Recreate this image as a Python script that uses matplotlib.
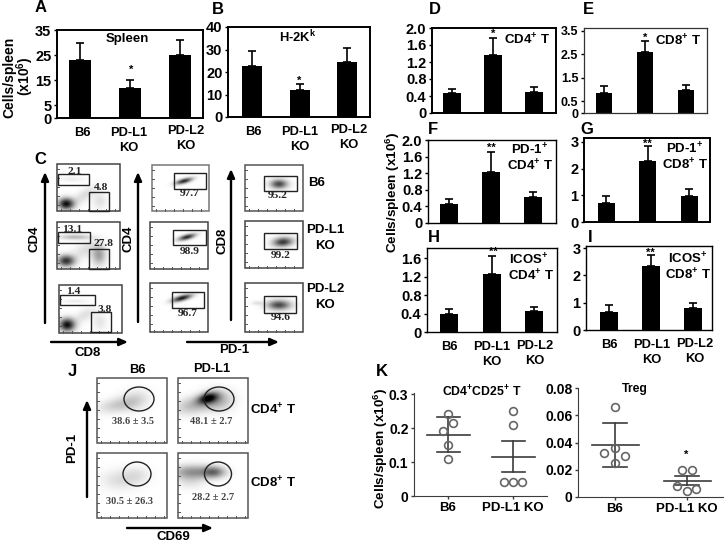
import numpy as np
import matplotlib
matplotlib.use("Agg")
import matplotlib.pyplot as plt
from matplotlib.patches import Rectangle, Ellipse
from matplotlib.transforms import ScaledTranslation

plt.rcParams['font.family'] = ['Liberation Sans', 'DejaVu Sans']
plt.rcParams['font.weight'] = 'bold'
plt.rcParams['mathtext.fontset'] = 'custom'
plt.rcParams['mathtext.rm'] = 'Liberation Sans:bold'
plt.rcParams['mathtext.it'] = 'Liberation Sans:bold'
plt.rcParams['mathtext.bf'] = 'Liberation Sans:bold'
plt.rcParams['mathtext.default'] = 'rm'

# ------------------ data ------------------
categories = ['B6', 'PD-L1\nKO', 'PD-L2\nKO']
a_vals = [23, 12, 25];        a_tops = [30, 15, 31]
b_vals = [22.5, 12, 24.5];    b_tops = [29.5, 14.5, 30.5]
d_vals = [0.48, 1.37, 0.50];  d_tops = [0.56, 1.76, 0.62]
e_vals = [0.86, 2.60, 1.00];  e_tops = [1.16, 3.05, 1.20]
f_vals = [0.46, 1.23, 0.63];  f_tops = [0.58, 1.71, 0.75]
g_vals = [0.70, 2.28, 0.97];  g_tops = [0.97, 2.85, 1.23]
h_vals = [0.40, 1.26, 0.45];  h_tops = [0.49, 1.65, 0.55]
i_vals = [0.66, 2.35, 0.80];  i_tops = [0.90, 2.75, 1.00]

k_cats = ['B6', 'PD-L1 KO']
k1_b6 = [0.24, 0.215, 0.19, 0.15, 0.11]
k1_ko = [0.25, 0.21, 0.04, 0.04, 0.04]
k1_means = [0.18, 0.116]; k1_hi = [0.233, 0.163]; k1_lo = [0.13, 0.07]
k2_b6 = [0.066, 0.036, 0.032, 0.030, 0.025]
k2_ko = [0.020, 0.020, 0.0083, 0.006, 0.0044]
k2_means = [0.038, 0.012]; k2_hi = [0.054, 0.0154]; k2_lo = [0.0218, 0.0086]

# ------------------ layout helpers (pixels) ------------------
W, H = 726, 543
fig = plt.figure(figsize=(W/100, H/100), dpi=100, facecolor='white')


def px_axes(l, t, r, b):
    return fig.add_axes([l/W, 1-b/H, (r-l)/W, (b-t)/H])


def bar_panel(box, centers, width, vals, tops, ticks, ticklabels, scale,
              lw=1.4, labels=True, offsets=None, pad=6.5, edge='k', tick_size=10.5):
    l, t, r, b = box
    ax = px_axes(l, t, r, b)
    s = (centers[2]-centers[0])/2
    x = np.arange(3)
    ax.bar(x, vals, width=width/s, color='k')
    ax.errorbar(x, vals, yerr=[np.zeros(3), np.array(tops)-np.array(vals)],
                fmt='none', ecolor='k', elinewidth=1.2, capsize=3, capthick=1.2)
    ax.set_xlim((l-centers[0])/s, (r-centers[0])/s)
    ax.set_ylim(0, (b-t)/scale)
    ax.set_yticks(ticks)
    ax.set_yticklabels(ticklabels, fontsize=tick_size, fontweight='bold')
    ax.tick_params(axis='y', length=2, width=1, pad=2)
    if labels:
        ax.set_xticks(x)
        ax.set_xticklabels(categories, fontsize=9.3, fontweight='bold', linespacing=1.3)
        ax.tick_params(axis='x', length=0, pad=pad)
        if offsets:
            for lab, (dx, dy) in zip(ax.get_xticklabels(), offsets):
                lab.set_transform(lab.get_transform() +
                                  ScaledTranslation(dx/100, -dy/100, fig.dpi_scale_trans))
    else:
        ax.set_xticks([])
    for sp in ax.spines.values():
        sp.set_linewidth(lw)
        sp.set_color(edge)
    return ax


bar_panel((57, 30, 203, 118), (80, 131, 180), 22, a_vals, a_tops,
          [0, 5, 15, 25, 35], ['0', '5', '15', '25', '35'], 2.51,
          offsets=[(2, 0), (-1, 0), (6, -2)])
bar_panel((228, 27, 370, 117), (252, 299, 347), 20, b_vals, b_tops,
          [0, 10, 20, 30, 40], ['0', '10', '20', '30', '40'], 2.27,
          offsets=[(1, 0), (0, 0), (2, -2)])
bar_panel((432, 28, 556, 113), (452, 493, 534), 18, d_vals, d_tops,
          [0, .4, .8, 1.2, 1.6, 2.0], ['0', '0.4', '0.8', '1.2', '1.6', '2.0'], 42.5, labels=False)
bar_panel((584, 28, 707, 113), (604, 645, 686), 16, e_vals, e_tops,
          [0, .5, 1.5, 2.5, 3.5], ['0', '0.5', '1.5', '2.5', '3.5'], 23.5, labels=False, lw=0.9, edge='#333333',
          tick_size=9)
bar_panel((428, 140, 556, 223), (449, 491, 533), 18, f_vals, f_tops,
          [0, .4, .8, 1.2, 1.6, 2.0], ['0', '0.4', '0.8', '1.2', '1.6', '2.0'], 41.5, labels=False, lw=1.0)
bar_panel((584, 138, 710, 222), (606, 647, 689), 17, g_vals, g_tops,
          [0, 1, 2, 3], ['0', '1', '2', '3'], 26.7, labels=False)
bar_panel((427, 248, 557, 332), (449, 492, 534), 18, h_vals, h_tops,
          [0, .4, .8, 1.2, 1.6], ['0', '0.4', '0.8', '1.2', '1.6'], 46, lw=1.0,
          offsets=[(0, 0), (0, 0), (1, -1)])
bar_panel((586, 246, 712, 330), (609, 651, 693), 18, i_vals, i_tops,
          [0, 1, 2, 3], ['0', '1', '2', '3'], 27.3, lw=1.0,
          offsets=[(0, 0), (1, 0), (2, -1)])


def scatter_panel(box, centers, yscale, b6, ko, b6_dx, ko_dx, means, hi, lo, ticks, ticklabels,
                  mean_w, cap_w):
    l, t, r, b = box
    ax = px_axes(l, t, r, b)
    s = centers[1]-centers[0]
    ax.set_xlim((l-centers[0])/s, (r-centers[0])/s)
    ax.set_ylim(0, (b-t)/yscale)
    col = '#3c3c3c'
    for i in range(2):
        ax.plot([i-mean_w/2/s, i+mean_w/2/s], [means[i]]*2, color=col, lw=1.2, zorder=2)
        ax.plot([i, i], [lo[i], hi[i]], color=col, lw=1.2, zorder=2)
        for v in (lo[i], hi[i]):
            ax.plot([i-cap_w/2/s, i+cap_w/2/s], [v, v], color=col, lw=1.2, zorder=2)
    ax.plot(np.array(b6_dx), b6, 'o', mfc='none', mec='#666666', mew=1.2, ms=5.6, zorder=3, clip_on=False)
    ax.plot(1+np.array(ko_dx), ko, 'o', mfc='none', mec='#666666', mew=1.2, ms=5.6, zorder=3, clip_on=False)
    ax.set_xticks([0, 1])
    ax.set_xticklabels(k_cats, fontsize=9.5, fontweight='bold')
    ax.set_yticks(ticks)
    ax.set_yticklabels(ticklabels, fontsize=10, fontweight='bold')
    ax.tick_params(axis='both', length=2.5, width=1, pad=1.5, color=col)
    ax.spines['top'].set_visible(False)
    ax.spines['right'].set_visible(False)
    ax.spines['left'].set_color(col)
    ax.spines['bottom'].set_color(col)
    return ax


scatter_panel((414, 393, 547, 496), (448, 513), 340, k1_b6, k1_ko,
              [0, .072, -.077, 0, 0], [0, 0, -.144, 0, .144],
              k1_means, k1_hi, k1_lo, [0, .1, .2, .3], ['0', '0.1', '0.2', '0.3'], 43, 23)
scatter_panel((578, 388, 723, 497), (615, 687), 1362, k2_b6, k2_ko,
              [0, 0, -.148, .139, 0], [-.074, .065, -.139, .13, 0],
              k2_means, k2_hi, k2_lo, [0, .02, .04, .06, .08], ['0', '0.02', '0.04', '0.06', '0.08'], 47, 24)

# ------------------ overlay in pixel space ------------------
ov = fig.add_axes([0, 0, 1, 1], zorder=10)
ov.patch.set_alpha(0)
ov.axis('off')


def T(x, y, s, size=9, rot=0, family=None, color='k', ha='center'):
    kw = {}
    if family:
        kw['family'] = family
    ov.text(x, y, s, fontsize=size, rotation=rot, ha=ha, va='center', color=color,
            fontweight='bold', linespacing=1.2, **kw)


def arrow(x0, y0, x1, y1):
    ov.annotate('', xy=(x1, y1), xytext=(x0, y0),
                arrowprops=dict(arrowstyle='-|>,head_width=0.22,head_length=0.5', lw=1.7,
                                color='k', shrinkA=0, shrinkB=0))


def flow(box, blobs, gates=(), ell=None, edge='#444444'):
    l, t, r, b = box
    xs, ys = np.meshgrid(np.linspace(l, r, (r-l)*2), np.linspace(t, b, (b-t)*2))
    img = np.zeros_like(xs)
    for cx, cy, sx, sy, rot, amp in blobs:
        th = np.deg2rad(rot)
        u = (xs-cx)*np.cos(th)+(ys-cy)*np.sin(th)
        v = -(xs-cx)*np.sin(th)+(ys-cy)*np.cos(th)
        img += amp*np.exp(-0.5*((u/sx)**2+(v/sy)**2))
    ov.imshow(img, extent=(l, r, b, t), cmap='gray_r', vmin=0, vmax=1,
              aspect='auto', interpolation='bilinear', zorder=1)
    ov.add_patch(Rectangle((l, t), r-l, b-t, fill=False, ec=edge, lw=1.1, zorder=2))
    # instrument tick marks along the bottom and left edges
    for tx in np.arange(l+4, r-2, 9):
        ov.plot([tx, tx], [b-2, b], color='#555555', lw=0.7, zorder=2)
    for ty in np.arange(t+5, b-2, 9):
        ov.plot([l, l+2], [ty, ty], color='#555555', lw=0.7, zorder=2)
    for g in gates:
        ov.add_patch(Rectangle((g[0], g[1]), g[2]-g[0], g[3]-g[1], fill=False, ec='#222222', lw=1.0, zorder=3))
    if ell:
        ov.add_patch(Ellipse((ell[0], ell[1]), 2*ell[2], 2*ell[3], fill=False, ec='#222222', lw=1.0, zorder=3))


S = 'Liberation Serif'
# panel C, CD4 vs CD8
flow((57, 164, 120, 211), [(66, 204, 5.5, 4, 0, .95), (85, 195, 10, 4, -35, .14), (100, 201, 5, 6, 0, .12), (72, 179, 9, 2, 0, .07)],
     [(58, 174, 89, 185), (89, 192, 109, 211)])
flow((57, 222, 120, 269), [(66, 261, 6, 4, 0, .8), (85, 250, 9, 5, -30, .13), (99, 255, 5, 7, 0, .38), (75, 237, 11, 1.8, 0, .28)],
     [(58, 232, 90, 243), (89, 249, 109, 269)])
flow((59, 285, 122, 333), [(67, 325, 5.5, 4.5, 0, .95), (85, 315, 8, 4, -30, .12), (100, 322, 5, 6, 0, .1), (75, 301, 9, 1.5, 0, .07)],
     [(60, 295, 95, 305), (91, 312, 111, 332)])
# panel C, gated
flow((152, 165, 209, 211), [(184, 181, 6, 1.7, -15, .85)], [(174, 173, 206, 189)], edge='#777777')
flow((150, 222, 208, 269), [(187, 237, 6, 1.8, -15, .85)], [(173, 230, 206, 245)], edge='#444444')
flow((150, 283, 208, 332), [(182, 298, 7, 1.9, -15, .92)], [(172, 292, 204, 308)], edge='#444444')
flow((245, 165, 303, 211), [(279, 184, 6, 3.2, 0, .72)], [(264, 176, 297, 191)], edge='#555555')
flow((245, 221, 303, 268), [(283, 242, 7, 3.2, -5, .78)], [(264, 233, 297, 249)], edge='#444444')
flow((245, 283, 303, 332), [(279, 305, 8, 3.4, 0, .72), (257, 303, 4, 1.4, 0, .12)], [(264, 296, 296, 313)], edge='#444444')

for x, y, s in [(75, 171, '2.1'), (101, 188, '4.8'), (72, 229, '13.1'), (103, 244, '27.8'),
                (73, 292, '1.4'), (105, 309, '3.8'), (190, 194, '97.7'), (190, 252, '98.9'),
                (188, 314, '96.7'), (278, 196, '95.2'), (281, 255, '99.2'), (281, 317, '94.6')]:
    T(x, y, s, size=8.2, family=S, color='#222222')

T(317, 183, 'B6', 9.5)
T(325, 230, 'PD-L1', 9.5); T(325, 246, 'KO', 9.5)
T(325, 289, 'PD-L2', 9.5); T(325, 305, 'KO', 9.5)
arrow(45, 323, 45, 172); arrow(138, 322, 138, 172); arrow(231, 320, 231, 169)
arrow(51, 342, 128, 342); arrow(187, 342, 279, 342)
T(34, 239, 'CD4', 9.5, 90); T(129, 239, 'CD4', 9.5, 90); T(222, 241, 'CD8', 9.5, 90)
T(88, 353, 'CD8', 9.5); T(234, 350, 'PD-1', 9.5)

# panel J
flow((97, 378, 167, 443), [(118, 405, 14, 5, -10, .2), (135, 400, 10, 7, -15, .14)], ell=(139, 399, 15, 12), edge='#555555')
flow((178, 378, 248, 443), [(208, 398, 7, 3.5, -15, .85), (195, 405, 14, 6, -10, .28), (218, 400, 10, 7, 0, .3)], ell=(219, 399, 15, 12), edge='#555555')
flow((97, 453, 167, 518), [(120, 480, 13, 7, 0, .13), (137, 475, 9, 6, 0, .1)], ell=(137, 474, 14, 12), edge='#555555')
flow((178, 453, 248, 518), [(192, 472, 14, 5, 0, .42), (214, 472, 8, 4, 0, .5), (190, 482, 10, 5, 0, .1)], ell=(218, 474, 13.5, 12), edge='#555555')
for x, y, s in [(133, 421, '38.6 ± 3.5'), (211, 421, '48.1 ± 2.7'), (129, 501, '30.5 ± 26.3'), (213, 498, '28.2 ± 2.7')]:
    T(x, y, s, size=7.5, family=S, color='#444444')
T(137, 370, 'B6', 9.3); T(212, 369, 'PD-L1', 9.3)
T(273, 410, 'CD4$^{+}$ T', 9.5); T(273, 483, 'CD8$^{+}$ T', 9.5)
T(72, 448, 'PD-1', 9.5, 90)
arrow(87, 497, 87, 400); arrow(127, 528, 213, 528)
T(173, 537, 'CD69', 9.5)

# titles inside panels
T(127, 39, 'Spleen', 9.5); T(298, 37, 'H-2K$^{k}$', 9.3)
T(527, 40, 'CD4$^{+}$ T', 9.5); T(678, 41, 'CD8$^{+}$ T', 9.5)
T(530, 150, 'PD-1$^{+}$', 9.5); T(530, 166, 'CD4$^{+}$ T', 9.5)
T(685, 149, 'PD-1$^{+}$', 9.5); T(685, 165, 'CD8$^{+}$ T', 9.5)
T(529, 260, 'ICOS$^{+}$', 9.5); T(531, 276, 'CD4$^{+}$ T', 9.5)
T(688, 259, 'ICOS$^{+}$', 9.5); T(688, 275, 'CD8$^{+}$ T', 9.5)
T(482, 392, 'CD4$^{+}$CD25$^{+}$ T', 8.8); T(635, 389, 'Treg', 8.8)

# significance stars
for x, y, s in [(131, 70, '*'), (299, 81, '*'), (493, 34, '*'), (645, 38, '*'), (491, 148, '**'),
                (647, 144, '**'), (493, 252, '**'), (650, 253, '**'), (686, 455, '*')]:
    T(x, y, s, 8)

# axis titles
T(9, 77, 'Cells/spleen', 10, 90); T(25, 76, '(x10$^{6}$)', 10, 90)
T(393, 192, 'Cells/spleen (x10$^{6}$)', 9.7, 90)
T(381, 448, 'Cells/spleen (x10$^{6}$)', 9.7, 90)

# panel letters
for x, y, s in [(41, 8, 'A'), (218, 9, 'B'), (40, 159, 'C'), (435, 10, 'D'), (588, 10, 'E'), (433, 130, 'F'),
                (587, 129, 'G'), (434, 237, 'H'), (590, 237, 'I'), (72, 371, 'J'), (382, 371, 'K')]:
    T(x, y, s, 12)

ov.set_xlim(0, W)
ov.set_ylim(H, 0)

fig.savefig('out.png', dpi=100, facecolor='white')
